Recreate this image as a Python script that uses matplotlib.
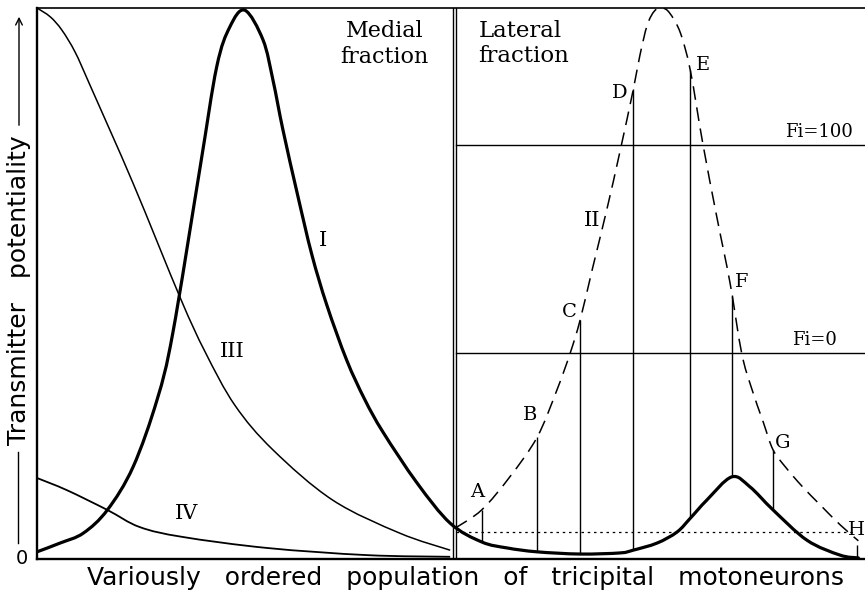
import matplotlib
matplotlib.use("Agg")
import matplotlib.pyplot as plt
from matplotlib.path import Path
from matplotlib.patches import PathPatch, FancyArrowPatch

# ---- data (arbitrary units: x = population rank 0..100, y = potentiality 0..100) ----
curve1_x = [0, 2.8, 5.6, 8.5, 11.6, 14.5, 16.4, 19.7, 21.7, 23.3, 25.1, 27.3, 28.5,
            29.7, 31.5, 33.2, 35.0, 37.4, 39.6, 41.8, 45.9, 49.9, 53.7, 56.8, 60.4,
            65.6, 70.4, 72.0, 74.9, 77.3, 78.9, 80.9, 83.9, 86.1, 88.9, 93.0, 97.0, 99.2]
curve1_y = [1.3, 2.9, 4.7, 8.9, 16.7, 28.9, 41.0, 71.1, 89.3, 96.6, 99.6, 94.2, 86.9,
            77.9, 65.9, 55.2, 46.1, 36.1, 28.9, 23.0, 13.8, 6.5, 3.1, 2.0, 1.3,
            0.9, 1.1, 1.6, 2.9, 4.9, 7.4, 10.7, 14.9, 13.1, 8.9, 3.4, 0.7, 0.2]

curve2_x = [50.5, 53.7, 57.1, 60.4, 62.8, 64.4, 65.6, 67.1, 68.8, 70.4, 72.0, 72.8,
            73.7, 74.6, 75.5, 76.4, 77.7, 78.9, 80.4, 82.1, 83.7, 85.1, 86.3, 87.7,
            88.9, 90.5, 92.4, 94.6, 97.0, 99.2]
curve2_y = [5.6, 8.9, 14.9, 22.1, 30.7, 37.4, 43.4, 52.8, 63.3, 73.9, 85.1, 91.3,
            96.9, 99.5, 100.0, 99.1, 95.5, 88.7, 75.5, 62.1, 50.1, 37.4, 31.0, 24.9,
            19.8, 16.5, 13.2, 9.8, 6.2, 3.3]

curve3_x = [0, 1.6, 3.0, 4.6, 6.4, 11.6, 17.3, 20.3, 23.9, 28.5, 35.7, 43.8, 49.9]
curve3_y = [100.0, 98.4, 96.0, 92.0, 86.0, 68.2, 47.4, 37.6, 27.9, 19.8, 10.7, 4.7, 1.6]

curve4_x = [0, 3.6, 8.5, 12.4, 17.6, 27.8, 39.9, 49.9]
curve4_y = [14.7, 12.5, 8.9, 5.8, 4.0, 2.0, 0.7, 0.4]

curve_names = ["I", "II", "III", "IV"]

marker_labels = ["A", "B", "C", "D", "E", "F", "G", "H"]
marker_x = [53.7, 60.4, 65.6, 72.0, 78.9, 83.9, 88.9, 99.0]
marker_low = [3.1, 1.3, 0.9, 1.6, 7.4, 14.9, 8.9, 0.2]
marker_high = [8.9, 22.1, 43.4, 85.3, 88.7, 47.9, 19.8, 2.6]

fi_labels = ["Fi=100", "Fi=0"]
fi_levels = [75.1, 37.4]
threshold_level = 4.9
divider_x = [50.25, 50.65]


def smooth_path(xs, ys):
    """Catmull-Rom curve through the given points, drawn as cubic Bezier segments."""
    pts = list(zip(xs, ys))
    n = len(pts)
    verts = [pts[0]]
    codes = [Path.MOVETO]
    for i in range(n - 1):
        p0 = pts[i - 1] if i > 0 else pts[i]
        p1 = pts[i]
        p2 = pts[i + 1]
        p3 = pts[i + 2] if i + 2 < n else pts[i + 1]
        c1 = (p1[0] + (p2[0] - p0[0]) / 6, p1[1] + (p2[1] - p0[1]) / 6)
        c2 = (p2[0] - (p3[0] - p1[0]) / 6, p2[1] - (p3[1] - p1[1]) / 6)
        verts += [c1, c2, p2]
        codes += [Path.CURVE4] * 3
    return Path(verts, codes)


# ---- figure ----
fig = plt.figure(figsize=(8.65, 5.90), dpi=100)
ax = fig.add_axes([37 / 865, 31 / 590, 828 / 865, 551 / 590])
ax.set_xlim(0, 100)
ax.set_ylim(0, 100)
ax.set_xticks([])
ax.set_yticks([])
ax.spines["right"].set_visible(False)
ax.spines["left"].set_linewidth(1.7)
ax.spines["bottom"].set_linewidth(1.7)
ax.spines["top"].set_linewidth(1.2)

k = "black"
ax.add_patch(PathPatch(smooth_path(curve1_x, curve1_y), fill=False, ec=k, lw=2.3,
                       capstyle="round", zorder=4))
ax.add_patch(PathPatch(smooth_path(curve2_x, curve2_y), fill=False, ec=k, lw=1.1,
                       linestyle=(0, (9, 5)), zorder=3))
ax.add_patch(PathPatch(smooth_path(curve3_x, curve3_y), fill=False, ec=k, lw=1.1,
                       zorder=3))
ax.add_patch(PathPatch(smooth_path(curve4_x, curve4_y), fill=False, ec=k, lw=1.3,
                       zorder=3))

for dx in divider_x:
    ax.axvline(dx, color=k, lw=1.0)

for lev in fi_levels:
    ax.plot([divider_x[1], 100], [lev, lev], color=k, lw=1.0)
ax.plot([divider_x[1], 98.8], [threshold_level, threshold_level], color=k,
        lw=0.9, dashes=(2, 3))

ax.vlines(marker_x, marker_low, marker_high, color=k, lw=1.0)

serif = ["DejaVu Serif"]
sans = ["DejaVu Sans"]

label_offsets = [(-4, 18), (-7, 22), (-11, 8), (-13, -4), (13, 5), (10, 13), (10, 7), (0, 15)]
for lab, x, y, off in zip(marker_labels, marker_x, marker_high, label_offsets):
    ax.annotate(lab, (x, y), xytext=off, textcoords="offset pixels",
                ha="center", va="center", fontsize=14, family=serif,
                annotation_clip=False)

name_pos = [(34.5, 57.8), (67.0, 61.5), (23.6, 37.6), (18.1, 8.3)]
for nm, (x, y) in zip(curve_names, name_pos):
    ax.text(x, y, nm, ha="center", va="center", fontsize=15, family=serif)

ax.text(98.6, fi_levels[0] + 0.7, fi_labels[0], ha="right", va="bottom",
        fontsize=13, family=serif)
ax.text(96.6, fi_levels[1] + 0.7, fi_labels[1], ha="right", va="bottom",
        fontsize=13, family=serif)

ax.text(42.0, (559 - 37) / 5.51, "Medial", ha="center", va="baseline",
        fontsize=16, family=serif)
ax.text(42.0, (559 - 63) / 5.51, "fraction", ha="center", va="baseline",
        fontsize=16, family=serif)
ax.text(53.3, (559 - 37) / 5.51, "Lateral", ha="left", va="baseline",
        fontsize=16.5, family=serif)
ax.text(53.3, (559 - 62) / 5.51, "fraction", ha="left", va="baseline",
        fontsize=16.5, family=serif)

fig.text(466 / 865, 1 - 578 / 590,
         "Variously   ordered   population   of   tricipital   motoneurons",
         ha="center", va="center", fontsize=18, family=sans)
fig.text(19 / 865, 1 - 290 / 590, "Transmitter   potentiality",
         ha="center", va="center", rotation=90, fontsize=18, family=sans)
# dash below and arrow above the y label
fig.add_artist(plt.Line2D([18 / 865, 18 / 865], [1 - 543 / 590, 1 - 452 / 590],
                          color=k, lw=1.0))
fig.add_artist(FancyArrowPatch(
    (19 / 865, 1 - 128 / 590), (19 / 865, 1 - 14 / 590),
    transform=fig.transFigure, arrowstyle="->", mutation_scale=12, color=k, lw=1.0))
fig.text(22 / 865, 1 - 559 / 590, "0", ha="center", va="center", fontsize=14,
         family=sans)

fig.savefig("out.png", dpi=100)
